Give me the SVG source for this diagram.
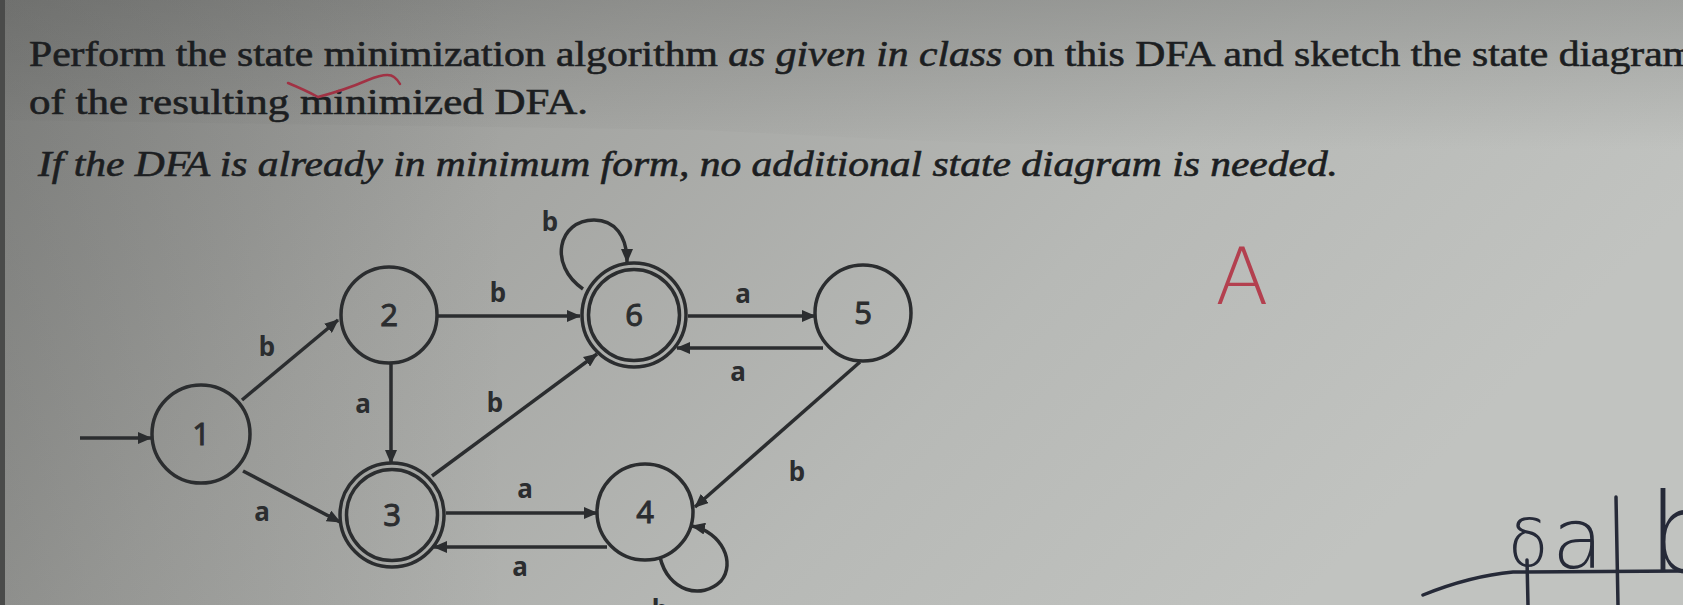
<svg xmlns="http://www.w3.org/2000/svg" width="1683" height="605" viewBox="0 0 1683 605">
<defs>
<linearGradient id="bgH" x1="0" y1="0" x2="1" y2="0.35">
<stop offset="0" stop-color="#878886"/>
<stop offset="0.35" stop-color="#a4a5a2"/>
<stop offset="0.7" stop-color="#b7b9b6"/>
<stop offset="1" stop-color="#c1c3c0"/>
</linearGradient>
<linearGradient id="topShade" x1="0" y1="0" x2="0" y2="1">
<stop offset="0" stop-color="#5a5b59" stop-opacity="0.3"/>
<stop offset="0.6" stop-color="#5a5b59" stop-opacity="0.12"/>
<stop offset="1" stop-color="#5a5b59" stop-opacity="0"/>
</linearGradient>
<linearGradient id="botShade" x1="0" y1="0" x2="1" y2="0">
<stop offset="0" stop-color="#4a4b49" stop-opacity="0.22"/>
<stop offset="0.3" stop-color="#4a4b49" stop-opacity="0"/>
</linearGradient>
<marker id="arr" viewBox="0 0 14 12" refX="13" refY="6" markerWidth="14" markerHeight="12" markerUnits="userSpaceOnUse" orient="auto">
<path d="M0,0 L14,6 L0,12 z" fill="#2b2d2f"/>
</marker>
<style>
.title{font-family:"Liberation Serif","DejaVu Serif",serif;font-size:35px;fill:#1c1e21;stroke:#1c1e21;stroke-width:0.6}
.it{font-style:italic}
.st{fill:none;stroke:#2b2d2f;stroke-width:3.5}
.edge{fill:none;stroke:#2b2d2f;stroke-width:3.5;marker-end:url(#arr)}
.num{font-family:"Noto Sans","DejaVu Sans",sans-serif;font-size:31px;fill:#2b2d2f;stroke:#2b2d2f;stroke-width:0.9;text-anchor:middle}
.lab{font-family:"Noto Sans","DejaVu Sans",sans-serif;font-size:26px;font-weight:bold;fill:#2b2d2f;text-anchor:middle}
.hand{font-family:"DejaVu Sans","Noto Sans",sans-serif;font-weight:200;fill:#262a38}
.hl{fill:none;stroke:#262a38;stroke-width:3.5;stroke-linecap:round}
</style>
</defs>
<rect width="1683" height="605" fill="url(#bgH)"/>
<polygon points="0,0 1683,0 1683,150 1200,150 900,140 700,130 0,120" fill="url(#topShade)"/>
<rect width="1683" height="605" fill="url(#botShade)"/>
<rect x="0" y="0" width="5" height="605" fill="#4a4b4a"/>

<g id="question">
<text class="title" x="29" y="66" textLength="1666" lengthAdjust="spacingAndGlyphs">Perform the state minimization algorithm <tspan class="it">as given in class</tspan> on this DFA and sketch the state diagram</text>
<text class="title" x="29" y="114" textLength="559" lengthAdjust="spacingAndGlyphs">of the resulting minimized DFA.</text>
<text class="title it" x="38" y="176" textLength="1300" lengthAdjust="spacingAndGlyphs">If the DFA is already in minimum form, no additional state diagram is needed.</text>
</g>

<g id="marks">
<path d="M288,83 Q305,90 318,97 Q345,90 368,80 Q388,72 394,77 Q398,80 400,84" fill="none" stroke="#a13244" stroke-width="2.5" stroke-linecap="round"/>
<text x="1242" y="304" font-family="'DejaVu Sans',Inter,sans-serif" font-weight="200" font-size="78" fill="#b3404f" text-anchor="middle">A</text>
</g>

<g id="connectors">
<path class="edge" d="M80,438 L151,438"/>
<path class="edge" d="M242,400 L338,320"/>
<path class="edge" d="M243,471 L340,522"/>
<path class="edge" d="M391,364 L391,463"/>
<path class="edge" d="M438,316 L580,316"/>
<path class="edge" d="M432,476 L597,354"/>
<path class="edge" d="M446,513 L597,513"/>
<path class="edge" d="M607,547 L434,547"/>
<path class="edge" d="M688,316 L815,316"/>
<path class="edge" d="M823,348 L677,348"/>
<path class="edge" d="M860,362 L695,507"/>
<path class="edge" d="M583,289 C548,265 558,220 594,220 C615,220 627,236 627,262"/>
<path class="edge" d="M660,557 C668,592 702,600 721,581 C736,563 722,532 692,526"/>
<text class="lab" x="267" y="356">b</text>
<text class="lab" x="262" y="521">a</text>
<text class="lab" x="363" y="413">a</text>
<text class="lab" x="498" y="302">b</text>
<text class="lab" x="495" y="412">b</text>
<text class="lab" x="525" y="498">a</text>
<text class="lab" x="520" y="576">a</text>
<text class="lab" x="743" y="303">a</text>
<text class="lab" x="738" y="381">a</text>
<text class="lab" x="797" y="481">b</text>
<text class="lab" x="550" y="231">b</text>
<text class="lab" x="660" y="619">b</text>
</g>

<g id="node1"><circle class="st" cx="201" cy="434" r="49"/><text class="num" x="201" y="445">1</text></g>
<g id="node2"><circle class="st" cx="389" cy="315" r="48"/><text class="num" x="389" y="326">2</text></g>
<g id="node3"><circle class="st" cx="392" cy="515" r="52"/><circle class="st" cx="392" cy="515" r="45.5"/><text class="num" x="392" y="526">3</text></g>
<g id="node6"><circle class="st" cx="634" cy="315" r="52"/><circle class="st" cx="634" cy="315" r="45.5"/><text class="num" x="634" y="326">6</text></g>
<g id="node5"><circle class="st" cx="863" cy="313" r="48"/><text class="num" x="863" y="324">5</text></g>
<g id="node4"><circle class="st" cx="645" cy="512" r="48"/><text class="num" x="645" y="523">4</text></g>

<g id="handwriting">
<path class="hl" d="M1423,595 Q1470,576 1513,572 L1683,571"/>
<path class="hl" d="M1527,560 L1528,605"/>
<path class="hl" d="M1616,497 L1618,605"/>
<text class="hand" x="1508" y="566" font-size="66">δ</text>
<text class="hand" x="1552" y="568" font-size="84">a</text>
<text class="hand" x="1648" y="572" font-size="110">b</text>
</g>
</svg>
